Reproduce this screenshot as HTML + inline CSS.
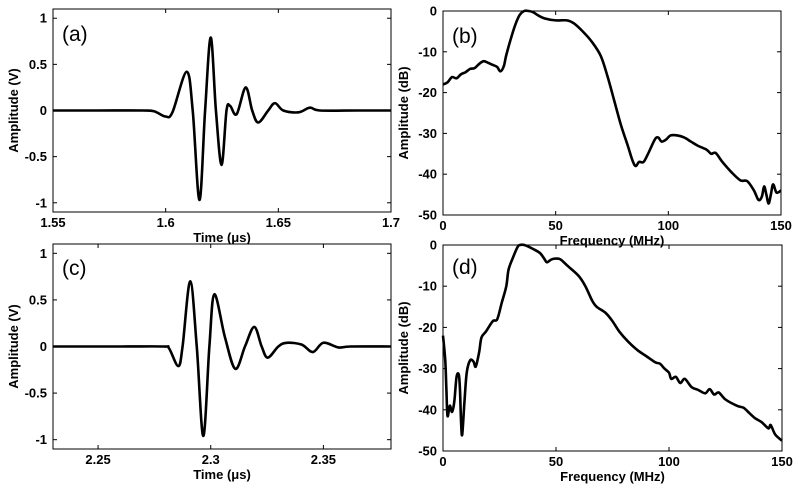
<!DOCTYPE html>
<html><head><meta charset="utf-8">
<style>
html,body{margin:0;padding:0;background:#fff;}
svg{display:block;}
text{font-family:"Liberation Sans",Arial,sans-serif;font-weight:bold;fill:#000;}
</style></head>
<body>
<svg id="fig" width="800" height="488" viewBox="0 0 800 488" xmlns="http://www.w3.org/2000/svg"></svg>
<script>
// Panel (a) data
const aTime = [1.55,1.57,1.59,1.595,1.5999,1.603,1.6093,1.612,1.615,1.6175,1.620,1.6223,1.6248,1.627,1.6286,1.6315,1.6355,1.6384,1.6411,1.6455,1.6485,1.6522,1.6589,1.664,1.6685,1.685,1.7];
const aVolt = [0,0,0,-0.01,-0.065,-0.02,0.42,0.0,-0.97,0.0,0.79,0.0,-0.59,0.0,0.05,-0.04,0.25,0.0,-0.13,0.0,0.08,0.0,-0.02,0.03,0,0,0];
// Panel (b) data
const bFreq = [0,2,4,6,8,10,12,14,16,18,20,22,24,25.5,27,28,30,32,34,36,38,40,42,45,50,55,58,62,66,70,73,76,79,82,84,85.5,87,89,91,94,95.5,97,99,101,104,107,110,113,117,119,121,124,128,132,135,138,140,141.5,142.5,143.5,144.5,145.5,146.5,148,150];
const bDb = [-18,-17.5,-16.2,-16.5,-15.5,-15,-14.2,-14,-13,-12.3,-12.7,-13.2,-13.7,-14.8,-13.5,-11,-7,-3.5,-1,0,0,-0.3,-1,-1.8,-2.3,-2.3,-3,-5,-7.5,-11,-16,-22,-28,-33,-36.5,-38,-37,-37,-35,-31.5,-31,-32,-31.5,-30.5,-30.5,-31,-32,-33,-34,-35,-34.8,-37,-39.5,-41.5,-41.7,-44,-46.3,-45.5,-43,-45,-47.2,-45,-42.5,-44.5,-44];
// Panel (c) data
const cTime = [2.23,2.26,2.279,2.2815,2.2856,2.2875,2.2909,2.2938,2.2967,2.2994,2.3016,2.3063,2.3109,2.3152,2.3193,2.3226,2.3253,2.33,2.3337,2.3404,2.3453,2.35,2.3567,2.362,2.38];
const cVolt = [0,0,0,-0.02,-0.21,0,0.70,0,-0.96,0,0.56,0.1,-0.24,0,0.21,0,-0.12,0,0.04,0.02,-0.06,0.04,-0.01,0,0];
// Panel (d) data
const dFreq = [0,1,1.5,2,3,4,5,6,7,7.5,8,8.5,9.5,10.5,12,13.5,14.5,16,17,19,22,24,26,28,29,31,33,34,36,40,43,45,46,48,50,52,55,60,63,66,68,72,75,78,82,86,90,94,96,98,100,101,103,105,107,110,113,116,118,120,122,125,130,133,135,138,141,144,145,147,150];
const dDb = [-22,-28,-35,-41.5,-39,-40.5,-38,-32,-31.5,-35,-43,-46,-38,-31,-28,-28.3,-29.5,-26,-22.5,-21,-18.5,-18,-14,-10,-6,-3,-0.5,0,0,-1,-2,-3.5,-4.2,-3.5,-3.3,-3.5,-5,-7.5,-10,-13.5,-15,-16.5,-18.5,-21,-23.5,-25.5,-27,-28.5,-28.8,-30,-31,-32.5,-32,-33.5,-32.5,-34.5,-35.2,-36,-35,-36.3,-35.8,-37.5,-39,-39.5,-40.5,-42,-43,-44.5,-43.7,-46,-47.5];
// Tick labels
const aXTicks = [1.55,1.6,1.65,1.7];
const aXLabels = ["1.55","1.6","1.65","1.7"];
const vYTicks = [1,0.5,0,-0.5,-1];
const vYLabels = ["1","0.5","0","-0.5","-1"];
const fXTicks = [0,50,100,150];
const fXLabels = ["0","50","100","150"];
const dbYTicks = [0,-10,-20,-30,-40,-50];
const dbYLabels = ["0","-10","-20","-30","-40","-50"];
const cXTicks = [2.25,2.3,2.35];
const cXLabels = ["2.25","2.3","2.35"];

const NS = "http://www.w3.org/2000/svg";
const svg = document.getElementById('fig');
function mk(tag, attrs, parent){const e=document.createElementNS(NS,tag);for(const k in attrs)e.setAttribute(k,attrs[k]);(parent||svg).appendChild(e);return e;}

function smoothPath(pts){
  let d = "M"+pts[0][0].toFixed(2)+","+pts[0][1].toFixed(2);
  for(let i=0;i<pts.length-1;i++){
    const p0=pts[Math.max(0,i-1)],p1=pts[i],p2=pts[i+1],p3=pts[Math.min(pts.length-1,i+2)];
    const c1x=p1[0]+(p2[0]-p0[0])/6,c1y=p1[1]+(p2[1]-p0[1])/6;
    const c2x=p2[0]-(p3[0]-p1[0])/6,c2y=p2[1]-(p3[1]-p1[1])/6;
    d+=" C"+c1x.toFixed(2)+","+c1y.toFixed(2)+" "+c2x.toFixed(2)+","+c2y.toFixed(2)+" "+p2[0].toFixed(2)+","+p2[1].toFixed(2);
  }
  return d;
}

function panel(p){
  const g = mk('g',{});
  
  
  const sx=v=>p.L+(v-p.x0)/(p.x1-p.x0)*(p.R-p.L);
  const sy=v=>p.B-(v-p.y0)/(p.y1-p.y0)*(p.B-p.T);
  const pts=p.xs.map((x,i)=>[sx(x),sy(p.ys[i])]);
  const line=mk('path',{d:smoothPath(pts),fill:'none',stroke:'#000','stroke-width':2.6,'stroke-linejoin':'round'},g);
  
  
  const box=mk('rect',{x:p.L,y:p.T,width:p.R-p.L,height:p.B-p.T,fill:'none',stroke:'#000','stroke-width':1},g);
  
  
  p.xt.forEach((v,i)=>{
    const x=sx(v);
    mk('line',{x1:x,y1:p.B,x2:x,y2:p.B-4,stroke:'#000'},g);
    mk('line',{x1:x,y1:p.T,x2:x,y2:p.T+4,stroke:'#000'},g);
    const t=mk('text',{x:x,y:p.B+15,'text-anchor':'middle','font-size':13},g);
    t.textContent=p.xl[i];
    
    
  });
  p.yt.forEach((v,i)=>{
    const y=sy(v);
    mk('line',{x1:p.L,y1:y,x2:p.L+4,y2:y,stroke:'#000'},g);
    mk('line',{x1:p.R,y1:y,x2:p.R-4,y2:y,stroke:'#000'},g);
    const t=mk('text',{x:p.L-6,y:y+4.5,'text-anchor':'end','font-size':13},g);
    t.textContent=p.yl[i];
    
    
  });
  const xt=mk('text',{x:(p.L+p.R)/2,y:p.B+30,'text-anchor':'middle','font-size':13},g);
  xt.textContent=p.xTitle;
  
  
  const ytx=p.L-35, yty=(p.T+p.B)/2;
  const yt=mk('text',{x:ytx,y:yty,'text-anchor':'middle','font-size':13,transform:'rotate(-90 '+ytx+' '+yty+')'},g);
  yt.textContent=p.yTitle;
  
  
  const lb=mk('text',{x:p.L+9,y:p.T+p.lbY,'font-size':21,style:'font-weight:normal'},g);
  lb.textContent=p.label;
  
  
}

panel({name:'panel-a',L:53,R:391,T:9,B:212,x0:1.55,x1:1.7,y0:-1.1,y1:1.1,xs:aTime,ys:aVolt,xt:aXTicks,xl:aXLabels,yt:vYTicks,yl:vYLabels,xTitle:'Time (\u03bcs)',yTitle:'Amplitude (V)',label:'(a)',lbY:32});
panel({name:'panel-b',L:443,R:781,T:11,B:215,x0:0,x1:150,y0:-50,y1:0,xs:bFreq,ys:bDb,xt:fXTicks,xl:fXLabels,yt:dbYTicks,yl:dbYLabels,xTitle:'Frequency (MHz)',yTitle:'Amplitude (dB)',label:'(b)',lbY:32});
panel({name:'panel-c',L:53,R:391,T:244,B:449,x0:2.23,x1:2.38,y0:-1.1,y1:1.1,xs:cTime,ys:cVolt,xt:cXTicks,xl:cXLabels,yt:vYTicks,yl:vYLabels,xTitle:'Time (\u03bcs)',yTitle:'Amplitude (V)',label:'(c)',lbY:31});
panel({name:'panel-d',L:443,R:782,T:245,B:451,x0:0,x1:150,y0:-50,y1:0,xs:dFreq,ys:dDb,xt:fXTicks,xl:fXLabels,yt:dbYTicks,yl:dbYLabels,xTitle:'Frequency (MHz)',yTitle:'Amplitude (dB)',label:'(d)',lbY:29});
</script>
</body></html>
